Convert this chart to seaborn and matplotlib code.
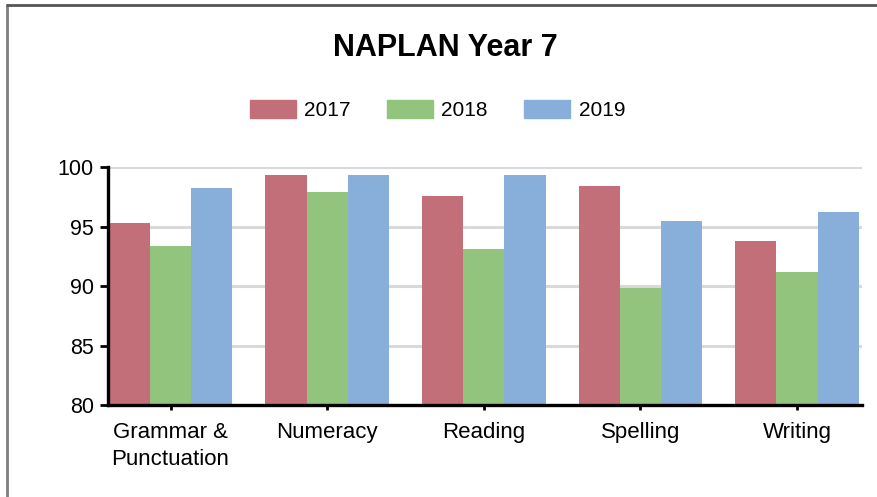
import seaborn as sns
import matplotlib.pyplot as plt
import pandas as pd
from matplotlib.lines import Line2D

# values
subjects = ['Grammar &\nPunctuation', 'Numeracy', 'Reading', 'Spelling', 'Writing']
years = ['2017', '2018', '2019']
y2017 = [95.3, 99.3, 97.6, 98.4, 93.8]
y2018 = [93.4, 97.9, 93.1, 89.8, 91.2]
y2019 = [98.2, 99.3, 99.3, 95.5, 96.2]
colours = ['#C36F79', '#93C47D', '#87AFD9']

df = pd.DataFrame({
    'subject': subjects * 3,
    'year': [y for y in years for _ in subjects],
    'score': y2017 + y2018 + y2019,
})

sns.set_style('white')
plt.rcParams['font.family'] = ['Liberation Sans', 'DejaVu Sans']
plt.rcParams['text.color'] = 'black'
plt.rcParams['xtick.labelcolor'] = 'black'
plt.rcParams['ytick.labelcolor'] = 'black'

fig = plt.figure(figsize=(8.77, 4.97), dpi=100)
ax = fig.add_axes([0.123, 0.185, 0.860, 0.479])

sns.barplot(data=df, x='subject', y='score', hue='year', palette=colours,
            width=0.79, saturation=1, linewidth=0, edgecolor='none',
            ax=ax, legend=False)

ax.set_ylim(80, 100)
ax.set_xlim(-0.40, 4.415)
ax.set_yticks([80, 85, 90, 95, 100])
for v in [85, 90, 95, 100]:
    ax.axhline(v, color='#d9d9d9', lw=2.2, zorder=0)
ax.set_axisbelow(True)
ax.set_xlabel('')
ax.set_ylabel('')

for s in ['top', 'right']:
    ax.spines[s].set_visible(False)
for s in ['left', 'bottom']:
    ax.spines[s].set_color('black')
    ax.spines[s].set_linewidth(2.4)
ax.tick_params(axis='y', length=6, width=2, color='black', pad=4, labelsize=15.5, left=True)
ax.tick_params(axis='x', length=3.5, width=2, color='black', pad=8.5, labelsize=16, bottom=True)
for lab in ax.get_xticklabels():
    lab.set_linespacing(1.38)
    lab.set_verticalalignment('top')

fig.text(0.508, 0.903, 'NAPLAN Year 7', ha='center', va='center',
         fontsize=22, fontweight='bold')

handles = [plt.Rectangle((0, 0), 1, 1, color=c) for c in colours]
fig.legend(handles, years, loc='center', bbox_to_anchor=(0.499, 0.779), ncol=3,
           frameon=False, fontsize=15, handlelength=2.2, handleheight=0.95,
           handletextpad=0.4, columnspacing=1.75)

# chart frame (left and top edges)
fig.add_artist(Line2D([0.0075, 0.0075], [0, 0.99], transform=fig.transFigure,
                      color='#7f7f7f', lw=2))
fig.add_artist(Line2D([0.0075, 1.0], [0.989, 0.989], transform=fig.transFigure,
                      color='#555555', lw=2))

fig.savefig('out.png', dpi=100)
